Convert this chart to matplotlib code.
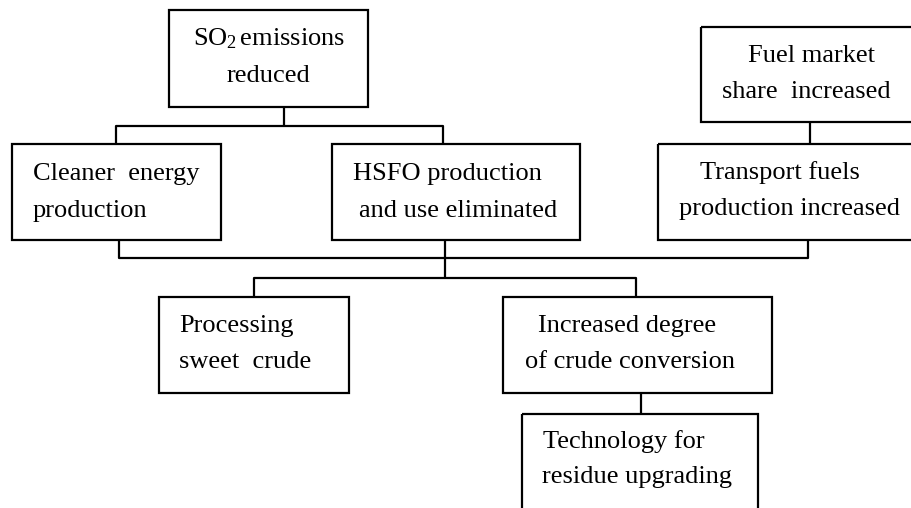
import matplotlib
matplotlib.use("Agg")
import matplotlib.pyplot as plt
from matplotlib.patches import Rectangle

plt.rcParams['font.family'] = ['Liberation Serif', 'DejaVu Serif']
plt.rcParams['mathtext.fontset'] = 'custom'
plt.rcParams['mathtext.rm'] = 'Liberation Serif'
plt.rcParams['mathtext.it'] = 'Liberation Serif:italic'

# Node labels (two lines each)
labels = [
    [r"SO$_{2}\,$emissions", "reduced"],
    ["Cleaner  energy", "production"],
    ["HSFO production", "and use eliminated"],
    ["Fuel market", "share  increased"],
    ["Transport fuels", "production increased"],
    ["Processing", "sweet  crude"],
    ["Increased degree", "of crude conversion"],
    ["Technology for", "residue upgrading"],
]

# Box geometry in pixels: x0, y0, x1, y1
boxes = [
    (169, 10, 368, 107),
    (12, 144, 221, 240),
    (332, 144, 580, 240),
    (701, 27, 915, 122),
    (658, 144, 915, 240),
    (159, 297, 349, 393),
    (503, 297, 772, 393),
    (522, 414, 758, 520),
]
# text line anchors: (x line1, baseline1, x line2, baseline2)
text_pos = [
    (193, 45, 227, 82),
    (33, 180, 33, 217),
    (353, 180, 359, 217),
    (748, 62, 722, 98),
    (700, 179, 679, 215),
    (179, 332, 179, 368),
    (538, 332, 525, 368),
    (543, 448, 542, 483),
]

# Connector polylines
connectors = [
    [(284, 107), (284, 126)],
    [(116, 144), (116, 126), (443, 126), (443, 144)],
    [(810, 122), (810, 144)],
    [(119, 240), (119, 258), (808, 258), (808, 240)],
    [(445, 240), (445, 278)],
    [(254, 297), (254, 278), (636, 278), (636, 297)],
    [(641, 393), (641, 414)],
]

W, H = 911, 508
fig = plt.figure(figsize=(W / 100, H / 100), dpi=100)
ax = fig.add_axes([0, 0, 1, 1])
ax.set_xlim(0, W)
ax.set_ylim(H, 0)
ax.axis('off')

lw = 1.6
for (x0, y0, x1, y1) in boxes:
    ax.add_patch(Rectangle((x0, y0), x1 - x0, y1 - y0, fill=False,
                           edgecolor='black', linewidth=lw))

for pts in connectors:
    xs = [p[0] for p in pts]
    ys = [p[1] for p in pts]
    ax.plot(xs, ys, color='black', linewidth=lw, solid_capstyle='butt')

fs = 19
for (l1, l2), (x1, b1, x2, b2) in zip(labels, text_pos):
    ax.text(x1, b1, l1, fontsize=fs, ha='left', va='baseline', color='black')
    ax.text(x2, b2, l2, fontsize=fs, ha='left', va='baseline', color='black')

fig.savefig('out.png', dpi=100)
